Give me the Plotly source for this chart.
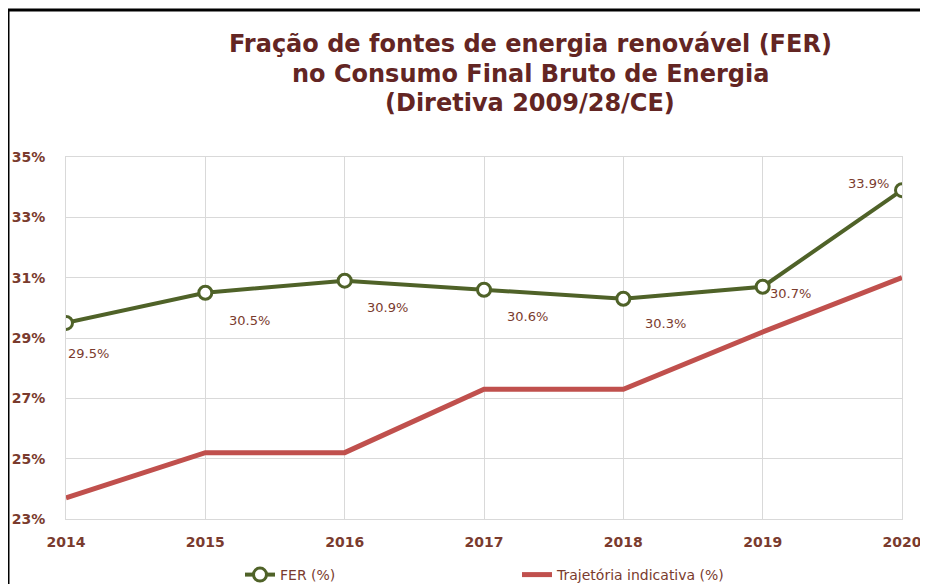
import plotly.graph_objects as go

years = [2014, 2015, 2016, 2017, 2018, 2019, 2020]
fer = [29.5, 30.5, 30.9, 30.6, 30.3, 30.7, 33.9]
trajetoria = [23.7, 25.2, 25.2, 27.3, 27.3, 29.2, 31.0]
fer_labels = ["29.5%", "30.5%", "30.9%", "30.6%", "30.3%", "30.7%", "33.9%"]
label_shift_x = [22, 44, 43, 43, 42, 28, -34]
label_shift_y = [-31, -28, -27, -27, -25, -7, 7]
y_ticks = [23, 25, 27, 29, 31, 33, 35]
title_lines = ["Fração de fontes de energia renovável (FER)",
               "no Consumo Final Bruto de Energia",
               "(Diretiva 2009/28/CE)"]

W, H = 928, 584
OFF = 8  # page body margin offset
L, R, T, B = 66 - OFF, 26 + OFF, 157 - OFF, 65 + OFF

GREEN = "#4F6228"
RED = "#C0504D"
TXT = "#7A3B2E"
TITLE = "#632523"
FONT = "DejaVu Sans"

fig = go.Figure()
fig.add_trace(go.Scatter(
    x=years, y=fer, name="FER (%)", mode="lines+markers",
    line=dict(color=GREEN, width=4),
    marker=dict(symbol="circle", size=13, color="white",
                line=dict(color=GREEN, width=3)),
))
fig.add_trace(go.Scatter(
    x=years, y=trajetoria, name="Trajetória indicativa (%)", mode="lines",
    line=dict(color=RED, width=5),
))

for x, y, t, sx, sy in zip(years, fer, fer_labels, label_shift_x, label_shift_y):
    fig.add_annotation(x=x, y=y, text=t, showarrow=False, xshift=sx, yshift=sy,
                       font=dict(family=FONT, size=13, color=TXT))

pw = W - L - R
ph = H - T - B


def px_x(p):
    return (p - OFF - L) / pw


def px_y(p):
    return (H - B - (p - OFF)) / ph


for line, yc in zip(title_lines, [44, 74, 103]):
    fig.add_annotation(
        xref="paper", yref="paper", x=px_x(530), y=px_y(yc),
        xanchor="center", yanchor="middle", showarrow=False,
        text=f"<b>{line}</b>",
        font=dict(family=FONT, size=24, color=TITLE),
    )

# outer frame (top and left edges visible)
fig.add_shape(type="line", xref="paper", yref="paper",
              x0=px_x(8), y0=px_y(10), x1=px_x(960), y1=px_y(10),
              line=dict(color="black", width=3))
fig.add_shape(type="line", xref="paper", yref="paper",
              x0=px_x(8), y0=px_y(10), x1=px_x(8), y1=px_y(620),
              line=dict(color="black", width=3))

fig.update_layout(
    width=W, height=H,
    margin=dict(l=L, r=R, t=T, b=B, autoexpand=False),
    paper_bgcolor="white", plot_bgcolor="white",
    font=dict(family=FONT, color=TXT),
    showlegend=True,
    legend=dict(orientation="h", x=px_x(240), y=px_y(575),
                xanchor="left", yanchor="middle",
                font=dict(size=14, color=TXT),
                entrywidth=232, entrywidthmode="pixels",
                bgcolor="rgba(0,0,0,0)"),
    xaxis=dict(range=[2014, 2020], tickvals=years, ticktext=[f"<b>{y}</b>" for y in years],
               showgrid=True, gridcolor="#D9D9D9", gridwidth=1,
               showline=True, linecolor="#D9D9D9", mirror=True, zeroline=False,
               tickfont=dict(size=14, color=TXT), ticklabelstandoff=10),
    yaxis=dict(range=[23, 35], tickvals=y_ticks, ticktext=[f"<b>{v}%</b>" for v in y_ticks],
               showgrid=True, gridcolor="#D9D9D9", gridwidth=1,
               showline=True, linecolor="#D9D9D9", mirror=True, zeroline=False,
               tickfont=dict(size=14, color=TXT), ticklabelstandoff=17),
)

fig.write_html("out.html")
